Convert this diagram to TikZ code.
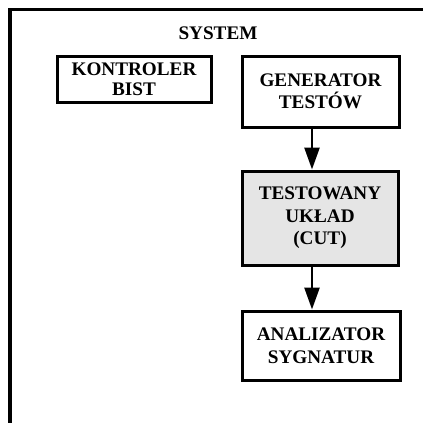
\documentclass[tikz,border=0pt]{standalone}
\usepackage{fontspec}
\setmainfont{Liberation Serif}
\usetikzlibrary{arrows.meta}
\begin{document}
\begin{tikzpicture}[x=1pt,y=1pt,
  blk/.style={draw=black,line width=3pt,align=center,inner sep=0pt,
    font=\bfseries\fontsize{19.2}{22.5}\selectfont},
  flow/.style={line width=2.6pt,-{Triangle[length=22pt,width=15pt]}}]
\useasboundingbox (0,0) rectangle (423,-423);
\clip (0,0) rectangle (423,-423);
\draw[line width=3.5pt] (10,-9.5) rectangle (600,-600);
\node[font=\bfseries\fontsize{19.2}{23}\selectfont] (sys) at (218,-33) {SYSTEM};
\node[blk,font=\bfseries\fontsize{19.2}{20.5}\selectfont,minimum width=154pt,minimum height=46pt] (kon) at (134,-79) {KONTROLER\\BIST};
\node[blk,minimum width=157pt,minimum height=71pt] (gen) at (320.5,-91.5) {GENERATOR\\TESTÓW};
\node[blk,fill=black!10,minimum width=156pt,minimum height=94pt] (cut) at (320,-218) {TESTOWANY\\UKŁAD\\(CUT)};
\node[blk,minimum width=158pt,minimum height=69pt] (ana) at (321,-345.5) {ANALIZATOR\\SYGNATUR};
\draw[flow] ([xshift=-8.5pt]gen.south) -- ([xshift=-8pt]cut.north);
\draw[flow] ([xshift=-8pt]cut.south) -- ([xshift=-9pt]ana.north);
\end{tikzpicture}
\end{document}
